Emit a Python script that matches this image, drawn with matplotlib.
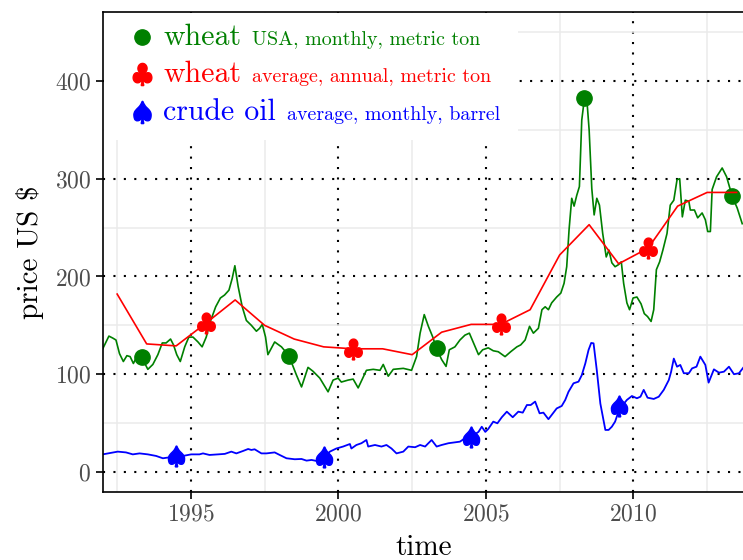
"""Wheat and crude oil prices, 1992-2013."""

import matplotlib.pyplot as plt
from matplotlib.lines import Line2D
from matplotlib.patches import Rectangle

plt.rcParams["font.family"] = "cmr10"
plt.rcParams["mathtext.fontset"] = "cm"
plt.rcParams["axes.unicode_minus"] = False
plt.rcParams["axes.formatter.use_mathtext"] = True

# wheat, USA, monthly (US $ / metric ton)
wheat_usa_t = [1992.01, 1992.22, 1992.35, 1992.46, 1992.58, 1992.71, 1992.83, 1992.94,
               1993.05, 1993.2, 1993.37, 1993.54, 1993.71, 1993.88, 1994.03, 1994.16,
               1994.31, 1994.41, 1994.52, 1994.64, 1994.79, 1994.93, 1995.07, 1995.24,
               1995.38, 1995.52, 1995.66, 1995.84, 1996.0, 1996.14, 1996.29, 1996.4,
               1996.49, 1996.6, 1996.74, 1996.88, 1997.05, 1997.22, 1997.33, 1997.42,
               1997.53, 1997.61, 1997.84, 1998.07, 1998.32, 1998.58, 1998.75, 1998.97,
               1999.14, 1999.37, 1999.65, 1999.82, 1999.99, 2000.1, 2000.33, 2000.5,
               2000.67, 2000.95, 2001.18, 2001.41, 2001.52, 2001.69, 2001.86, 2002.2,
               2002.48, 2002.65, 2002.77, 2002.91, 2003.05, 2003.2, 2003.33, 2003.5,
               2003.65, 2003.76, 2003.95, 2004.12, 2004.29, 2004.44, 2004.58, 2004.75,
               2004.89, 2005.08, 2005.25, 2005.42, 2005.65, 2005.84, 2006.05, 2006.18,
               2006.33, 2006.48, 2006.61, 2006.78, 2006.9, 2007.01, 2007.12, 2007.23,
               2007.4, 2007.54, 2007.65, 2007.74, 2007.82, 2007.91, 2007.99, 2008.08,
               2008.17, 2008.25, 2008.34, 2008.42, 2008.5, 2008.59, 2008.67, 2008.76,
               2008.85, 2008.96, 2009.08, 2009.17, 2009.27, 2009.38, 2009.49, 2009.59,
               2009.67, 2009.78, 2009.87, 2009.99, 2010.12, 2010.26, 2010.37, 2010.48,
               2010.6, 2010.69, 2010.78, 2010.89, 2011.0, 2011.14, 2011.25, 2011.37,
               2011.48, 2011.57, 2011.66, 2011.76, 2011.88, 2011.93, 2012.07, 2012.18,
               2012.33, 2012.44, 2012.52, 2012.61, 2012.67, 2012.82, 2013.01, 2013.16,
               2013.35, 2013.52, 2013.69]
wheat_usa = [126, 139, 137, 135, 121, 113, 119, 118,
             111, 120, 115, 105, 110, 120, 132, 132,
             136, 130, 120, 113, 128, 138, 138, 133,
             128, 138, 154, 169, 178, 181, 186, 198,
             211, 190, 169, 155, 150, 144, 147, 151,
             138, 120, 133, 128, 119, 99, 87, 107,
             103, 96, 82, 94, 96, 92, 94, 95,
             86, 104, 105, 104, 110, 98, 105, 106,
             104, 118, 142, 161, 149, 138, 126, 115,
             108, 125, 128, 135, 140, 142, 132, 120,
             125, 127, 124, 123, 118, 123, 128, 130,
             135, 149, 142, 147, 166, 169, 166, 173,
             179, 183, 193, 210, 248, 280, 272, 283,
             292, 360, 382, 382, 350, 290, 263, 280,
             273, 244, 220, 227, 214, 210, 212, 215,
             193, 173, 166, 178, 179, 172, 162, 159,
             154, 166, 207, 215, 227, 244, 273, 278,
             299, 300, 261, 278, 277, 268, 268, 260,
             265, 258, 246, 246, 289, 302, 311, 302,
             282, 270, 254]
wheat_usa_mark_t = [1993.33, 1998.32, 2003.33, 2008.34, 2013.35]
wheat_usa_mark = [117.6, 118.7, 126.5, 382.5, 282]

# wheat, average, annual (US $ / metric ton)
wheat_avg_t = [1992.5, 1993.5, 1994.5, 1995.5, 1996.5, 1997.5, 1998.5, 1999.5, 2000.5,
               2001.5, 2002.5, 2003.5, 2004.5, 2005.5, 2006.5, 2007.5, 2008.5, 2009.5,
               2010.5, 2011.5, 2012.5, 2013.5]
wheat_avg = [182, 131, 129, 152, 176, 150, 136, 128, 126,
             126, 120, 143, 151, 151, 166, 222, 253, 213,
             229, 272, 286, 286]

# crude oil, average, monthly (US $ / barrel)
oil_t = [1992.01, 1992.52, 1992.8, 1993.03, 1993.26, 1993.54, 1993.82, 1994.05, 1994.28,
         1994.5, 1994.73, 1995.01, 1995.29, 1995.41, 1995.63, 1995.92, 1996.15, 1996.37,
         1996.54, 1996.77, 1996.94, 1997.05, 1997.16, 1997.39, 1997.56, 1997.84, 1998.01,
         1998.24, 1998.52, 1998.75, 1998.92, 1999.09, 1999.3, 1999.5, 1999.71, 1999.93,
         2000.16, 2000.39, 2000.44, 2000.61, 2000.78, 2000.95, 2001.01, 2001.24, 2001.46,
         2001.63, 2001.8, 2001.97, 2002.2, 2002.37, 2002.6, 2002.77, 2002.94, 2003.05,
         2003.16, 2003.33, 2003.5, 2003.73, 2003.95, 2004.12, 2004.29, 2004.5, 2004.75,
         2004.86, 2004.98, 2005.08, 2005.25, 2005.39, 2005.54, 2005.71, 2005.91, 2006.1,
         2006.25, 2006.39, 2006.52, 2006.67, 2006.82, 2006.95, 2007.12, 2007.23, 2007.4,
         2007.57, 2007.69, 2007.8, 2007.97, 2008.14, 2008.25, 2008.37, 2008.48, 2008.57,
         2008.65, 2008.76, 2008.88, 2009.05, 2009.16, 2009.27, 2009.38, 2009.5, 2009.67,
         2009.78, 2009.95, 2010.12, 2010.24, 2010.35, 2010.48, 2010.69, 2010.86, 2011.03,
         2011.2, 2011.28, 2011.37, 2011.48, 2011.59, 2011.71, 2011.88, 2011.99, 2012.14,
         2012.27, 2012.44, 2012.55, 2012.73, 2012.9, 2013.07, 2013.24, 2013.41, 2013.58,
         2013.75]
oil = [18, 20.8, 20, 18, 19, 18, 16.4, 14, 15,
       15, 16.4, 18, 18, 19, 17.4, 18, 18.5, 20.8,
       19, 21.5, 23.5, 22.5, 23.2, 19, 19, 20, 17.4,
       14, 13, 13.3, 11.6, 12.3, 11, 15, 20.8, 24,
       26, 28.6, 24, 27.6, 29.4, 32.7, 26, 27.6, 26,
       27.6, 24, 19, 20.8, 26, 25.3, 27.6, 26, 29.4,
       32.7, 26, 27.6, 29.4, 30.3, 31, 34.5, 36, 41,
       46.3, 41, 44, 51.5, 49.8, 56, 61.7, 56, 61.7,
       60.7, 68.5, 68.5, 72, 60, 60.7, 54, 58.3, 65,
       67.5, 73.7, 82, 90.7, 92.4, 99, 111, 124.8, 132,
       131.6, 104, 70, 43, 43, 46.3, 51.5, 62, 69.6,
       73.7, 77.7, 75.4, 77, 84, 76, 74.7, 77, 84,
       94, 102.6, 116, 107.7, 109.5, 101, 101, 106, 107.7,
       118, 109.5, 91.4, 105, 101.6, 102.6, 107.7, 100, 101,
       107.7]
oil_mark_t = [1994.5, 1999.5, 2004.5, 2009.5]
oil_mark = [16, 15, 35.5, 67.5]

x_ticks = [1995, 2000, 2005, 2010]
y_ticks = [0, 100, 200, 300, 400]

fig = plt.figure(figsize=(7.43, 5.6), dpi=100)
ax = fig.add_axes([103 / 743, 68 / 560, 641 / 743, 480 / 560])

# Light minor grid + black dotted major grid
ax.set_xticks(x_ticks)
ax.set_yticks(y_ticks)
ax.set_xticks([1992.5, 1997.5, 2002.5, 2007.5, 2012.5], minor=True)
ax.set_yticks([50, 150, 250, 350, 450], minor=True)
ax.grid(which="minor", color="#ebebeb", linewidth=1.1)
ax.grid(which="major", color="black", linestyle=(0, (1, 4)), linewidth=1.5)
ax.set_axisbelow(True)
ax.tick_params(which="minor", length=0)
ax.tick_params(which="major", length=5, width=1.2, colors="black",
               labelcolor="#4d4d4d", labelsize=17)

ax.plot(wheat_usa_t, wheat_usa, color="green", linewidth=1.2)
ax.plot(wheat_usa_mark_t, wheat_usa_mark, "o", color="green", markersize=11)
ax.plot(wheat_avg_t, wheat_avg, color="red", linewidth=1.2,
        marker=r"$\clubsuit$", markersize=15, markevery=[3, 8, 13, 18])
ax.plot(oil_t, oil, color="blue", linewidth=1.3)
ax.plot(oil_mark_t, oil_mark, marker=r"$\spadesuit$", linestyle="none",
        color="blue", markersize=15)

ax.set_xlim(1992.02, 2013.75)
ax.set_ylim(-20.5, 470.6)
for s in ax.spines.values():
    s.set_linewidth(1.2)

ax.set_xlabel("time", fontsize=21, labelpad=6)
ax.set_ylabel("price US \\$", fontsize=21, labelpad=8)

# Legend, drawn by hand on a white box
fig.add_artist(Rectangle((104 / 743, 1 - 140 / 560), 414 / 743, 127 / 560,
                         transform=fig.transFigure, facecolor="white",
                         edgecolor="none", zorder=5))
rows = [("o", 11, "green", "wheat", "USA, monthly, metric ton", 37, 252),
        (r"$\clubsuit$", 16, "red", "wheat", "average, annual, metric ton", 74, 252),
        (r"$\spadesuit$", 16, "blue", "crude oil", "average, monthly, barrel", 112, 287)]
for mk, ms, col, big, small, ypx, xsmall in rows:
    fig.add_artist(Line2D([142 / 743], [1 - ypx / 560], marker=mk, markersize=ms,
                          color=col, linestyle="none", transform=fig.transFigure,
                          zorder=6))
    fig.text(163 / 743, 1 - (ypx + 8) / 560, big, color=col, fontsize=21.5,
             va="baseline", zorder=7)
    fig.text(xsmall / 743, 1 - (ypx + 8) / 560, small, color=col, fontsize=14.4,
             va="baseline", zorder=7)

fig.savefig("out.png", dpi=100)
